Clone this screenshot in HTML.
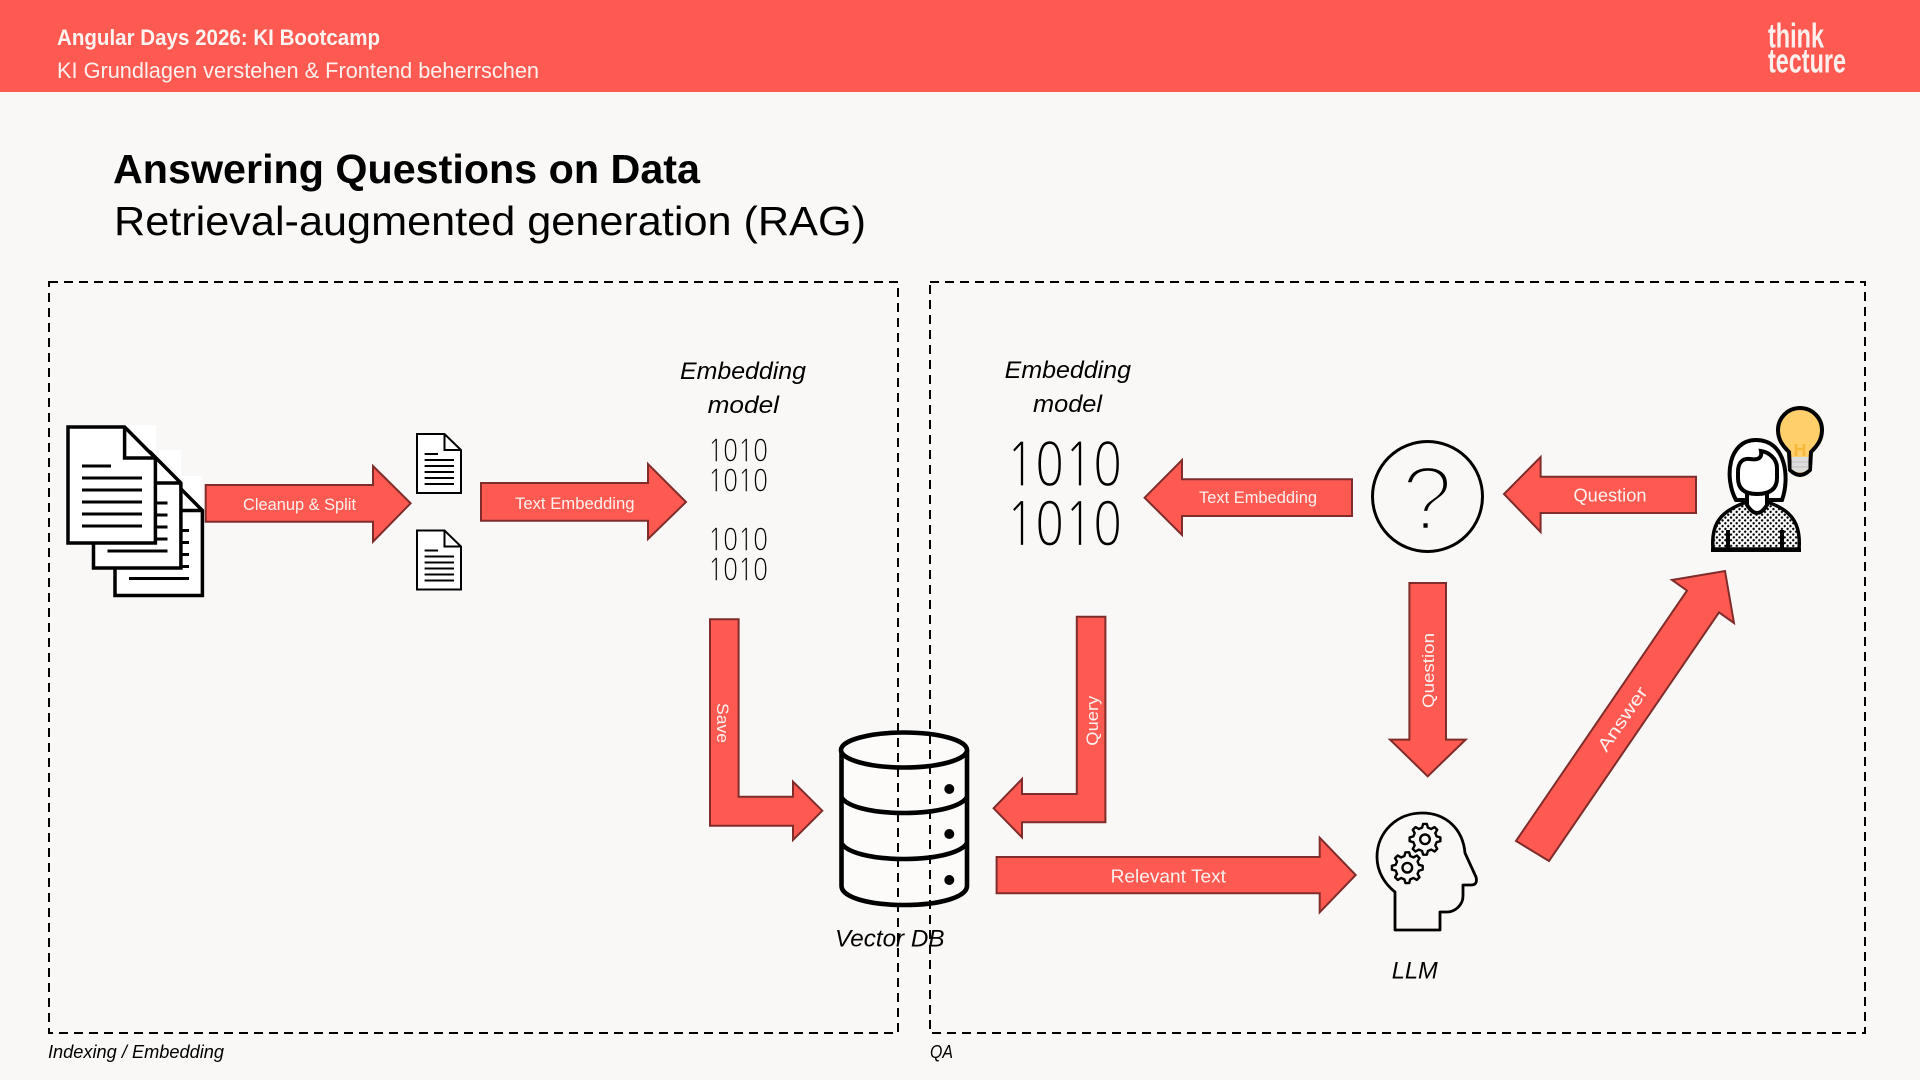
<!DOCTYPE html>
<html lang="en"><head><meta charset="utf-8"><title>Retrieval-augmented generation (RAG)</title>
<style>
html,body{margin:0;padding:0;background:#f9f8f6}
svg{display:block}
text{font-family:"Liberation Sans",sans-serif}
.a{fill:#ff5a52;stroke:#7f2c2a;stroke-width:2}
.l{fill:#fff0ee;font-size:17px}
.i{fill:#000;font-style:italic;font-size:24px}
.d{fill:#fff;stroke:#000;stroke-linejoin:miter}
.b{fill:none;stroke:#000;stroke-width:2;stroke-dasharray:9 6}
.n text{font-family:"NanumGothic","WenQuanYi Zen Hei",sans-serif;font-weight:400;fill:#000;stroke:#f9f8f6}
</style></head><body>
<svg width="1920" height="1080" viewBox="0 0 1920 1080" xmlns="http://www.w3.org/2000/svg">
<defs>
<pattern id="dots" width="4" height="4" patternUnits="userSpaceOnUse" patternTransform="rotate(45)">
<rect width="4" height="4" fill="#fff"/><circle cx="2" cy="2" r="1.2" fill="#000"/>
</pattern>
<g id="doc">
<path class="d" stroke-width="2" d="M417 434H444.5L461 450V493H417Z"/>
<path fill="none" stroke="#000" stroke-width="2" d="M444.5 434V450H461"/>
<path fill="none" stroke="#000" stroke-width="2" d="M424.6 454H438M424.6 460H454M424.6 466H454M424.6 472H454M424.6 478H454M424.6 484H454"/>
</g>
<g id="bigdoc">
<path class="d" stroke-width="3.5" d="M68 427H124.6L155.4 458V543H68Z"/>
<path fill="none" stroke="#000" stroke-width="3.5" d="M124.6 427V458H155.4"/>
<path fill="none" stroke="#000" stroke-width="3" d="M82 466H111M82 478H142M82 490H142M82 502H142M82 514H142M82 526H142"/>
</g>
<g id="gear">
<polygon fill="#f9f8f6" stroke="#000" stroke-width="2.4" stroke-linejoin="round" points="11.64,-2.9 15.38,-1.89 15.38,1.89 11.64,2.9 10.29,6.18 12.21,9.54 9.54,12.21 6.18,10.29 2.9,11.64 1.89,15.38 -1.89,15.38 -2.9,11.64 -6.18,10.29 -9.54,12.21 -12.21,9.54 -10.29,6.18 -11.64,2.9 -15.38,1.89 -15.38,-1.89 -11.64,-2.9 -10.29,-6.18 -12.21,-9.54 -9.54,-12.21 -6.18,-10.29 -2.9,-11.64 -1.89,-15.38 1.89,-15.38 2.9,-11.64 6.18,-10.29 9.54,-12.21 12.21,-9.54 10.29,-6.18"/>
<circle r="4.8" fill="none" stroke="#000" stroke-width="2.4"/>
</g>
</defs>

<rect width="1920" height="1080" fill="#f9f8f6"/>
<rect width="1920" height="92" fill="#ff5a52"/>
<text x="57" y="45" font-size="22" font-weight="700" fill="#fff4f2" textLength="323" lengthAdjust="spacingAndGlyphs">Angular Days 2026: KI Bootcamp</text>
<text x="57" y="78" font-size="22" fill="#fff0ee" textLength="482" lengthAdjust="spacingAndGlyphs">KI Grundlagen verstehen &amp; Frontend beherrschen</text>
<text x="1768" y="47.5" font-size="34" font-weight="700" fill="#fff0ee" textLength="56" lengthAdjust="spacingAndGlyphs">think</text>
<text x="1768" y="72.5" font-size="34" font-weight="700" fill="#fff0ee" textLength="78" lengthAdjust="spacingAndGlyphs">tecture</text>

<text x="113" y="183" font-size="41" font-weight="700" fill="#000" textLength="587" lengthAdjust="spacingAndGlyphs">Answering Questions on Data</text>
<text x="114" y="235" font-size="41" fill="#000" textLength="752" lengthAdjust="spacingAndGlyphs">Retrieval-augmented generation (RAG)</text>

<!-- left stack -->
<rect x="125" y="425" width="31" height="34" fill="#fff"/>
<rect x="155" y="450" width="26" height="34" fill="#fff"/>
<rect x="180" y="476" width="22" height="34" fill="#fff"/>
<use href="#bigdoc" x="47" y="52.5"/>
<use href="#bigdoc" x="25.5" y="25"/>
<use href="#bigdoc"/>
<use href="#doc"/>
<use href="#doc" y="96.5"/>

<!-- arrows -->
<polygon class="a" points="205.7,485 373,485 373,466 410.6,503.3 373,541.7 373,521.7 205.7,521.7"/>
<text class="l" x="243" y="510" textLength="113" lengthAdjust="spacingAndGlyphs">Cleanup &amp; Split</text>
<polygon class="a" points="481,483 648,483 648,464 686,502 648,539 648,520.7 481,520.7"/>
<text class="l" x="515" y="509" textLength="119.5" lengthAdjust="spacingAndGlyphs">Text Embedding</text>

<polygon class="a" points="1352,479.3 1182,479.3 1182,460 1144.6,497.7 1182,535 1182,516 1352,516"/>
<text class="l" x="1199" y="503" textLength="118" lengthAdjust="spacingAndGlyphs">Text Embedding</text>
<polygon class="a" points="1696,476.7 1540.6,476.7 1540.6,457 1504,494 1540.6,532 1540.6,513 1696,513"/>
<text class="l" x="1573.5" y="501.7" style="font-size:18px" textLength="73" lengthAdjust="spacingAndGlyphs">Question</text>

<polygon class="a" points="1409.4,583 1446,583 1446,739.6 1465.7,739.6 1427.7,776.3 1390,739.6 1409.4,739.6"/>
<text class="l" transform="translate(1434 708) rotate(-90)" textLength="75" lengthAdjust="spacingAndGlyphs">Question</text>

<polygon class="a" points="1516,841 1687,590.6 1672,580 1725,571 1734,623 1719,612.4 1549,861"/>
<text class="l" style="font-size:18px" transform="translate(1622.5 719) rotate(-55.5)" x="-37" y="6" textLength="74" lengthAdjust="spacingAndGlyphs">Answer</text>

<polygon class="a" points="710,619.3 738.6,619.3 738.6,796.7 793,796.7 793,781.7 822.3,810.7 793,840 793,825.7 710,825.7"/>
<text class="l" transform="translate(717 703) rotate(90)" textLength="40" lengthAdjust="spacingAndGlyphs">Save</text>

<polygon class="a" points="1076.8,616.7 1105.4,616.7 1105.4,822.3 1022,822.3 1022,837.3 993.6,808.3 1022,779 1022,794 1076.8,794"/>
<text class="l" transform="translate(1098 745.7) rotate(-90)" textLength="50" lengthAdjust="spacingAndGlyphs">Query</text>

<polygon class="a" points="996.6,857 1319.7,857 1319.7,837.7 1355.7,875 1319.7,912.3 1319.7,893.3 996.6,893.3"/>
<text class="l" x="1110.6" y="882.7" style="font-size:18px" textLength="115.4" lengthAdjust="spacingAndGlyphs">Relevant Text</text>

<!-- 1010 -->
<g class="n" font-size="31" stroke-width="0.6">
<text x="708" y="461.5" textLength="60" lengthAdjust="spacingAndGlyphs">1010</text>
<text x="708" y="491.5" textLength="60" lengthAdjust="spacingAndGlyphs">1010</text>
<text x="708" y="550.5" textLength="60" lengthAdjust="spacingAndGlyphs">1010</text>
<text x="708" y="580.5" textLength="60" lengthAdjust="spacingAndGlyphs">1010</text>
</g>
<g class="n" font-size="60" stroke-width="1.2">
<text x="1006" y="486" textLength="116" lengthAdjust="spacingAndGlyphs">1010</text>
<text x="1006" y="545.5" textLength="116" lengthAdjust="spacingAndGlyphs">1010</text>
</g>

<text class="i" x="680" y="379" textLength="126" lengthAdjust="spacingAndGlyphs">Embedding</text>
<text class="i" x="707.6" y="413" textLength="71.4" lengthAdjust="spacingAndGlyphs">model</text>
<text class="i" x="1004.7" y="378" textLength="126.3" lengthAdjust="spacingAndGlyphs">Embedding</text>
<text class="i" x="1033" y="412" textLength="69" lengthAdjust="spacingAndGlyphs">model</text>

<!-- question circle -->
<circle cx="1427.5" cy="496.5" r="55" fill="none" stroke="#000" stroke-width="3"/>
<text x="1401.5" y="530" font-size="92" fill="#000" stroke="#f9f8f6" stroke-width="4.5">?</text>

<!-- DB -->
<g fill="none" stroke="#000" stroke-width="4.6">
<path fill="#fcfbfa" d="M841.5 750V886C841.5 897 868 905 904 905S967 897 967 886V750"/>
<ellipse cx="904" cy="750" rx="63" ry="17.5" fill="#fcfbfa"/>
<path d="M841.5 797C846 806 870 813 904 813S962 806 967 797"/>
<path d="M841.5 843C846 852 870 859 904 859S962 852 967 843"/>
</g>
<circle cx="949.3" cy="789" r="5"/><circle cx="949.3" cy="834" r="5"/><circle cx="949.3" cy="880" r="5"/>

<!-- dashed boxes -->
<rect class="b" x="49" y="282" width="849" height="751"/>
<rect class="b" x="930" y="282" width="935" height="751"/>

<text class="i" x="835" y="946.7" textLength="109.5" lengthAdjust="spacingAndGlyphs">Vector DB</text>

<!-- head -->
<path fill="none" stroke="#000" stroke-width="2.8" stroke-linejoin="round" d="M1395 930V892C1385 884 1377 872 1377 857C1377 832 1397 813 1422 813C1447 813 1463 830 1465 853L1476 877Q1478 885 1471 885L1463 885V896C1463 905 1455 912 1447 912H1440V930Z"/>
<use href="#gear" x="1425" y="839.3"/>
<use href="#gear" x="1407.3" y="867.7"/>
<text class="i" x="1391.7" y="978.3" textLength="46" lengthAdjust="spacingAndGlyphs">LLM</text>

<!-- bulb -->
<path fill="#ffcf6b" stroke="#000" stroke-width="4" d="M1789 452C1783 446 1778 440 1778 430A22 22 0 1 1 1822 430C1822 440 1817 446 1811 452L1810 470Q1800 480 1790 470Z"/>
<path fill="#ddd" d="M1791.5 457H1808.5V469Q1800 476 1791.5 469Z"/>
<path fill="none" stroke="#c9c9c9" stroke-width="1.5" d="M1792 462H1808M1792 467H1808"/>
<path fill="none" stroke="#f5b838" stroke-width="2.5" d="M1796 444V456M1804 444V456M1796 449H1804"/>

<!-- person -->
<path fill="#fff" stroke="#000" stroke-width="4" d="M1736 500C1724 478 1728 440 1756 440C1786 440 1790 478 1782 500Z"/>
<path fill="url(#dots)" stroke="#000" stroke-width="3.5" d="M1713 549C1711 524 1720 511 1747 502H1767C1792 510 1801 524 1799 549Z"/>
<path fill="#fff" stroke="#000" stroke-width="4" d="M1747 488V505Q1757 521 1767 505V488Z"/>
<path fill="#fff" stroke="#000" stroke-width="4" d="M1738 472V478Q1738 494 1757 494Q1777 494 1777 478V468C1777 458 1768 452 1761 451Q1763 461 1750 459C1743 458 1738 462 1738 472Z"/>
<path stroke="#000" stroke-width="4" d="M1728 530V550M1782 530V550M1711 550H1801"/>

<text class="i" x="48" y="1058" style="font-size:18.5px" textLength="176" lengthAdjust="spacingAndGlyphs">Indexing / Embedding</text>
<text class="i" x="930" y="1058" style="font-size:18.5px" textLength="23" lengthAdjust="spacingAndGlyphs">QA</text>
</svg>
</body></html>
